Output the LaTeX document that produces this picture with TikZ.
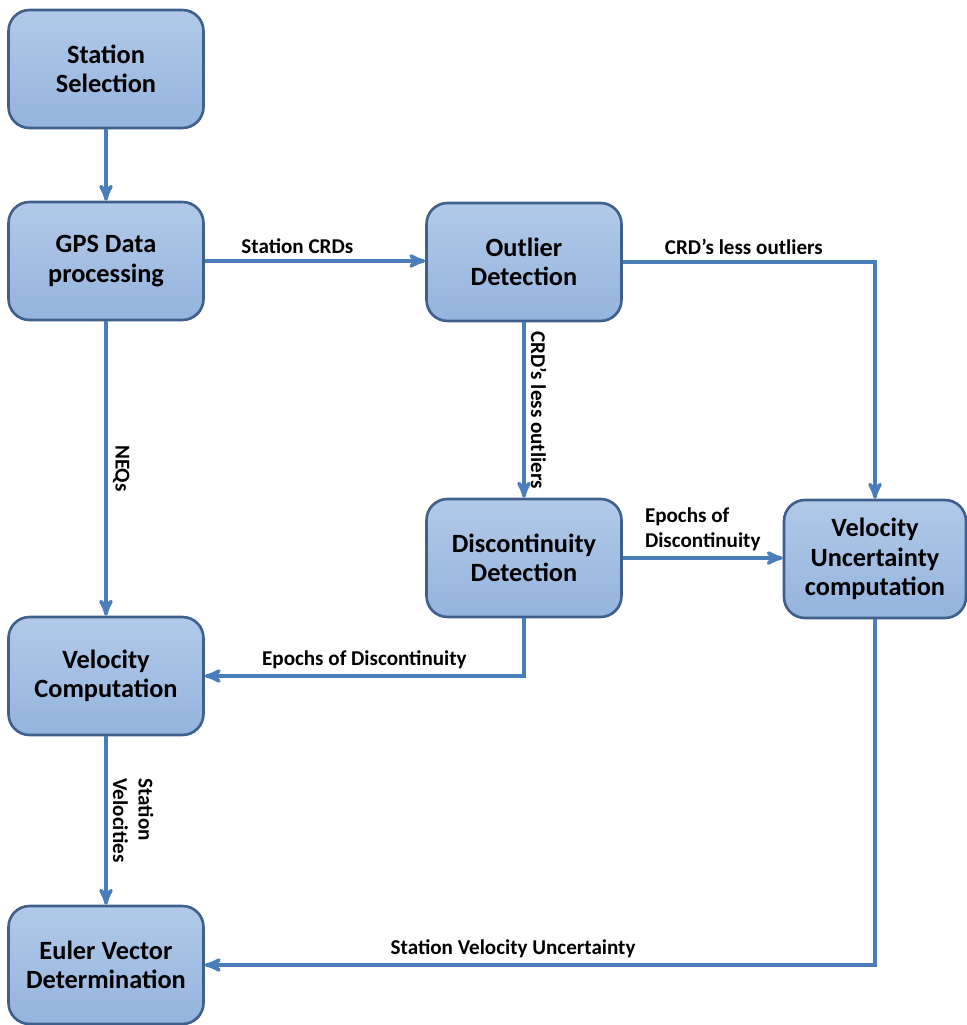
\documentclass[tikz,border=0pt]{standalone}
\usepackage{fontspec}
\setmainfont{Carlito}
\usepackage{xcolor}
\usepackage{tikz}
\usetikzlibrary{arrows}
\definecolor{BoxLine}{HTML}{3F5F8C}
\definecolor{BoxTop}{RGB}{178,201,232}
\definecolor{BoxBottom}{RGB}{148,180,221}
\definecolor{LineBlue}{HTML}{4A7EBB}
\tikzset{
  BaseNode/.style = {align=center, inner sep=4pt},
  StepNode/.style = {BaseNode, rectangle, rounded corners=0.42cm, draw=BoxLine, line width=1.5pt,
                     top color=BoxTop, bottom color=BoxBottom,
                     minimum width=3.9cm, minimum height=2.36cm,
                     font=\fontsize{15}{16.8}\selectfont\bfseries},
  EdgeLabel/.style = {inner sep=3pt, font=\fontsize{12}{14.5}\selectfont\bfseries},
  FlowLine/.style = {->, draw=LineBlue, line width=2pt},
}

\begin{document}
\begin{tikzpicture}[x=0.02cm, y=-0.02cm, >=stealth']
    \useasboundingbox (0,0) rectangle (967,1025);
    % boxes
    \node [StepNode] (sel)   at (106,69)  {Station\\Selection};
    \node [StepNode] (gps)   at (106,261) {GPS Data\\processing};
    \node [StepNode] (outl)  at (524,262) {Outlier\\Detection};
    \node [StepNode] (disc)  at (524,558) {Discontinuity\\Detection};
    \node [StepNode, minimum width=3.64cm] (vunc) at (875,559) {Velocity\\Uncertainty\\computation};
    \node [StepNode] (vcomp) at (106,676) {Velocity\\Computation};
    \node [StepNode] (euler) at (106,965) {Euler Vector\\Determination};
    % connectors
    \draw [FlowLine] (sel) -- (gps);
    \draw [FlowLine] (gps.east) -- node [EdgeLabel, above, pos=0.42] {Station CRDs} (gps.east -| outl.west);
    \draw [FlowLine] (outl.east) -| node [EdgeLabel, above, pos=0.24] {CRD’s less outliers} (vunc.north);
    \draw [FlowLine] (outl) -- node [EdgeLabel, anchor=south, rotate=-90] {CRD’s less outliers} (disc);
    \draw [FlowLine] (gps) -- node [EdgeLabel, anchor=south, rotate=-90] {NEQs} (vcomp);
    \draw [FlowLine] (disc.east) -- node [EdgeLabel, above, align=left] {Epochs of\\Discontinuity} (disc.east -| vunc.west);
    \draw [FlowLine] (disc.south) |- node [EdgeLabel, above, pos=0.75] {Epochs of Discontinuity} (vcomp.east);
    \draw [FlowLine] (vcomp) -- node [EdgeLabel, anchor=south, rotate=-90, align=left] {Station\\Velocities} (euler);
    \draw [FlowLine] (vunc.south) |- node [EdgeLabel, above, pos=0.77] {Station Velocity Uncertainty} (euler.east);
\end{tikzpicture}
\end{document}
